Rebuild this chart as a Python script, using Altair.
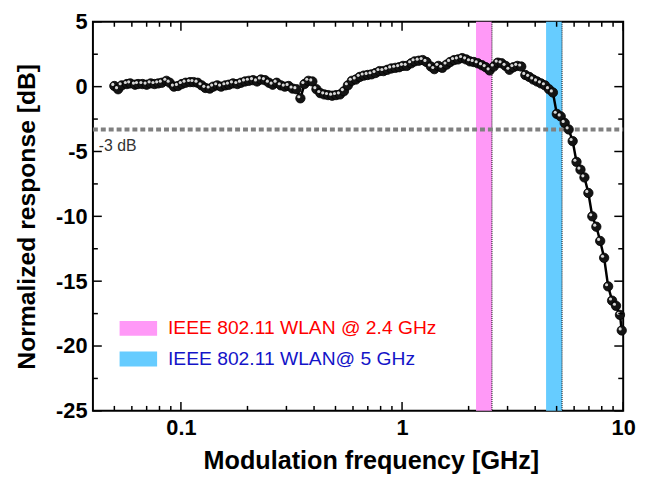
import altair as alt
import pandas as pd

# ---------------- data ----------------
freq = [
    0.050, 0.052, 0.054, 0.057, 0.059, 0.062, 0.064, 0.067, 0.070, 0.073,
    0.076, 0.079, 0.082, 0.086, 0.089, 0.093, 0.097, 0.101, 0.105, 0.110,
    0.114, 0.119, 0.124, 0.129, 0.135, 0.140, 0.146, 0.152, 0.159, 0.165,
    0.172, 0.180, 0.187, 0.195, 0.203, 0.212, 0.221, 0.230, 0.240, 0.250,
    0.260, 0.271, 0.283, 0.295, 0.307, 0.320, 0.333, 0.347, 0.362, 0.377,
    0.393, 0.410, 0.427, 0.445, 0.463, 0.483, 0.503, 0.524, 0.546, 0.569,
    0.593, 0.618, 0.644, 0.671, 0.699, 0.728, 0.759, 0.791, 0.824, 0.858,
    0.894, 0.932, 0.971, 1.01, 1.05, 1.10, 1.14, 1.19, 1.24, 1.29,
    1.35, 1.40, 1.46, 1.52, 1.59, 1.65, 1.72, 1.79, 1.87, 1.95,
    2.03, 2.11, 2.20, 2.30, 2.39, 2.49, 2.60, 2.71, 2.82, 2.94,
    3.06, 3.19, 3.32, 3.46, 3.61, 3.76, 3.92, 4.08, 4.25, 4.43,
    4.62, 4.81, 5.01, 5.22, 5.44, 5.67, 5.91, 6.15, 6.41, 6.68,
    6.96, 7.25, 7.56, 7.87, 8.20, 8.55, 8.91, 9.28, 9.67, 9.85,
]
response_db = [
    0.05, -0.2, 0.1, 0.2, 0.25, 0.15, 0.2, 0.2, 0.15, 0.25,
    0.2, 0.25, 0.3, 0.45, 0.3, 0.0, 0.05, 0.2, 0.3, 0.35,
    0.35, 0.3, 0.1, -0.1, -0.15, 0.0, 0.1, 0.0, 0.1, 0.15,
    0.25, 0.2, 0.3, 0.4, 0.45, 0.5, 0.4, 0.55, 0.5, 0.3,
    0.15, 0.3, 0.1, 0.0, 0.05, -0.15, -0.2, -0.9, 0.2, 0.45,
    0.4, -0.2, -0.5, -0.6, -0.65, -0.7, -0.65, -0.6, -0.35, 0.1,
    0.45, 0.55, 0.75, 0.85, 0.9, 0.95, 1.05, 1.2, 1.2, 1.3,
    1.4, 1.45, 1.5, 1.6, 1.6, 1.8, 1.95, 2.0, 2.05, 1.9,
    1.55, 1.35, 1.6, 1.45, 1.7, 1.9, 2.05, 2.1, 2.2, 2.1,
    1.95, 1.9, 1.8, 1.65, 1.5, 1.25, 1.55, 1.85, 1.8, 1.6,
    1.3, 1.5, 1.6, 1.55, 0.9, 0.75, 0.55, 0.4, 0.25, 0.1,
    -0.2, -0.45, -2.1, -2.3, -2.8, -3.3, -4.2, -5.8, -6.4, -7.0,
    -8.2, -10.0, -10.8, -11.9, -13.2, -15.4, -16.5, -16.9, -17.6, -18.8,
]

band_lo = [2.16, 4.48]
band_hi = [2.55, 5.29]
band_names = ["IEEE 802.11 WLAN @ 2.4 GHz", "IEEE 802.11 WLAN@ 5 GHz"]
band_colors = ["#ff99f7", "#66ccff"]
text_colors = ["#ff0000", "#1414c8"]

minus3_level = [-3.3]
minus3_label = "-3 dB"

x_major = [0.1, 1, 10]
x_minor = [0.05, 0.06, 0.07, 0.08, 0.09,
           0.2, 0.3, 0.4, 0.5, 0.6, 0.7, 0.8, 0.9,
           2, 3, 4, 5, 6, 7, 8, 9]
y_major = [5, 0, -5, -10, -15, -20, -25]
y_minor = [2.5, -2.5, -7.5, -12.5, -17.5, -22.5]

x_title = "Modulation frequency [GHz]"
y_title = "Normalized response [dB]"

# ---------------- chart ----------------
W, H = 537, 394
FONT = "Liberation Sans"

xs = alt.Scale(type="log", domain=[0.04, 10], nice=False)
ys = alt.Scale(domain=[-25, 5], nice=False)

xa = alt.Axis(values=x_major, labelExpr="'' + datum.value", ticks=False,
              domain=False, grid=False, labelFont=FONT, labelFontSize=22,
              labelFontWeight="bold", labelColor="black", labelPadding=7,
              titleFont=FONT, titleFontSize=25.5, titleFontWeight="bold",
              titleColor="black", titlePadding=10, titleX=W / 2 + 13,
              labelFlush=False)
ya = alt.Axis(values=y_major, labelExpr="'' + datum.value", ticks=False,
              domain=False, grid=False, labelFont=FONT, labelFontSize=22,
              labelFontWeight="bold", labelColor="black", labelPadding=6,
              titleFont=FONT, titleFontSize=25, titleFontWeight="bold",
              titleColor="black", titlePadding=16, labelFlush=False)


def X(field):
    return alt.X(field, scale=xs, axis=xa, title=x_title)


def Y(field):
    return alt.Y(field, scale=ys, axis=ya, title=y_title)


df = pd.DataFrame({"f": freq, "r": response_db})
bands = pd.DataFrame({"lo": band_lo, "hi": band_hi, "color": band_colors})
one = pd.DataFrame({"a": [0]})

band_layer = alt.Chart(bands).mark_rect().encode(
    x=X("lo:Q"), x2="hi:Q",
    y=alt.value(0), y2=alt.value(H),
    color=alt.Color("color:N", scale=None),
)
band_edge = alt.Chart(bands).mark_rule(color="black", strokeWidth=1, strokeDash=[1, 1]).encode(
    x=X("hi:Q"), y=alt.value(0), y2=alt.value(H),
)

m3 = alt.Chart(pd.DataFrame({"v": minus3_level})).mark_rule(
    color="#808080", strokeWidth=4, strokeDash=[5, 3]
).encode(y=Y("v:Q"), x=alt.value(0), x2=alt.value(W))
m3_text = alt.Chart(one).mark_text(
    align="left", baseline="middle", font=FONT, fontSize=16, color="#333333"
).encode(x=alt.value(6), y=alt.value(126), text=alt.value(minus3_label))

line = alt.Chart(df).mark_line(color="black", strokeWidth=2.5).encode(x=X("f:Q"), y=Y("r:Q"))
pts = alt.Chart(df).mark_point(shape="circle", filled=True, fill="#141414", stroke="#000000",
                               strokeWidth=0.8, size=90, opacity=1).encode(x=X("f:Q"), y=Y("r:Q"))
shine = alt.Chart(df).mark_point(shape="circle", filled=True, color="#d8d8d8", size=10,
                                 opacity=1, xOffset=-1.6, yOffset=-1.6).encode(x=X("f:Q"), y=Y("r:Q"))


def xticks(vals, ln):
    d = pd.DataFrame({"t": vals})
    b = alt.Chart(d).mark_rule(color="black", strokeWidth=1.5).encode(
        x=X("t:Q"), y=alt.value(H), y2=alt.value(H - ln))
    t = alt.Chart(d).mark_rule(color="black", strokeWidth=1.5).encode(
        x=X("t:Q"), y=alt.value(0), y2=alt.value(ln))
    return [b, t]


def yticks(vals, ln):
    d = pd.DataFrame({"t": vals})
    l = alt.Chart(d).mark_rule(color="black", strokeWidth=1.5).encode(
        y=Y("t:Q"), x=alt.value(0), x2=alt.value(ln))
    r = alt.Chart(d).mark_rule(color="black", strokeWidth=1.5).encode(
        y=Y("t:Q"), x=alt.value(W), x2=alt.value(W - ln))
    return [l, r]


tick_layers = xticks(x_major, 9) + xticks(x_minor, 5) + yticks(y_major, 9) + yticks(y_minor, 5)

legend_layers = []
for i, (name, col, tcol) in enumerate(zip(band_names, band_colors, text_colors)):
    y0 = 303 + 31 * i
    legend_layers.append(alt.Chart(one).mark_rect(color=col).encode(
        x=alt.value(27), x2=alt.value(65), y=alt.value(y0), y2=alt.value(y0 + 15)))
    legend_layers.append(alt.Chart(one).mark_text(
        align="left", baseline="middle", font=FONT, fontSize=19.5, color=tcol).encode(
        x=alt.value(76), y=alt.value(y0 + 7.5), text=alt.value(name)))

chart = alt.layer(
    band_layer, band_edge, m3, m3_text, line, pts, shine, *tick_layers, *legend_layers
).properties(
    width=W, height=H,
    autosize=alt.AutoSizeParams(type="none"),
    padding={"left": 86, "top": 11, "right": 15, "bottom": 64},
).configure_view(stroke="black", strokeWidth=2)

chart.save("out.html", embed_options={"renderer": "svg", "actions": False})
